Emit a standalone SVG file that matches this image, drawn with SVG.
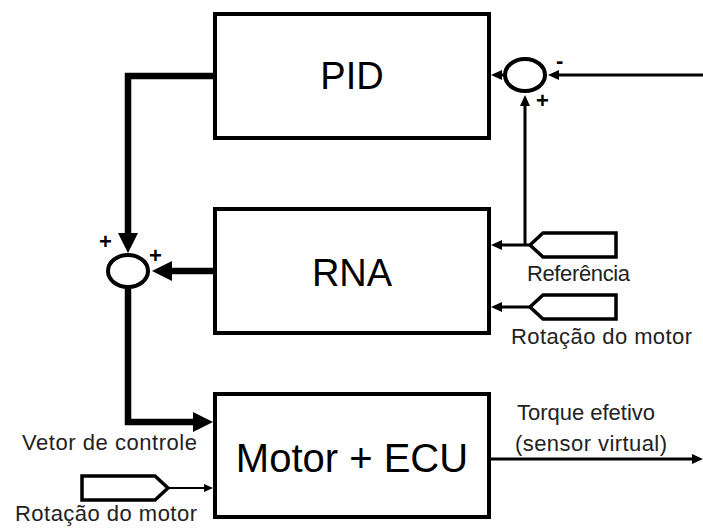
<svg xmlns="http://www.w3.org/2000/svg" width="703" height="528" viewBox="0 0 703 528">
<style>
.box{fill:#fff;stroke:#000;stroke-width:4}
.sum{fill:#fff;stroke:#000;stroke-width:4}
.thick{fill:none;stroke:#000;stroke-width:6.5}
.thin{fill:none;stroke:#000;stroke-width:3}
.hair{fill:none;stroke:#000;stroke-width:2}
.inp{fill:#fff;stroke:#000;stroke-width:3.5;stroke-linejoin:miter}
.big{font-family:"Liberation Sans",Arial,sans-serif;font-size:38px;text-anchor:middle;fill:#000}
.lbl{font-family:"Liberation Sans",Arial,sans-serif;font-size:22px;fill:#222}
.sign{font-family:"Liberation Sans",Arial,sans-serif;font-size:22px;font-weight:bold;fill:#000}
</style>
<defs>
<marker id="ab" markerUnits="userSpaceOnUse" markerWidth="20" markerHeight="20" refX="0" refY="10" orient="auto"><path d="M0,0 L20,10 L0,20 z" fill="#000"/></marker>
<marker id="as" markerUnits="userSpaceOnUse" markerWidth="11" markerHeight="10" refX="0" refY="5" orient="auto"><path d="M0,0 L11,5 L0,10 z" fill="#000"/></marker>
<marker id="ax" markerUnits="userSpaceOnUse" markerWidth="9" markerHeight="8" refX="0" refY="4" orient="auto"><path d="M0,0 L9,4 L0,8 z" fill="#000"/></marker>
</defs>
<g id="connectors">
<path class="thick" d="M215,76 H128 V233" marker-end="url(#ab)"/>
<path class="thick" d="M213,271 H172" marker-end="url(#ab)"/>
<path class="thick" d="M128,287 V422 H193" marker-end="url(#ab)"/>
<path class="thin" d="M703,75 H559" marker-end="url(#as)"/>
<path class="thin" d="M505,75 H502" marker-end="url(#as)"/>
<path class="thin" d="M525,245 V106" marker-end="url(#as)"/>
<path class="thin" d="M530,245 H502" marker-end="url(#as)"/>
<path class="thin" d="M530,307 H502" marker-end="url(#as)"/>
<path class="hair" d="M168,488 H204" marker-end="url(#ax)"/>
<path class="thin" d="M491,459 H692" marker-end="url(#as)"/>
</g>
<g id="pid"><rect class="box" x="215" y="14" width="274" height="124"/><text class="big" x="352" y="89">PID</text></g>
<g id="rna"><rect class="box" x="215" y="209" width="274" height="124"/><text class="big" x="352" y="286">RNA</text></g>
<g id="motor"><rect class="box" x="215" y="394" width="274" height="123"/><text class="big" x="352" y="472" style="font-size:40px">Motor + ECU</text></g>
<g id="sum1"><ellipse class="sum" cx="525" cy="75" rx="20" ry="16"/><text class="sign" x="556" y="68">-</text><text class="sign" x="536" y="108">+</text></g>
<g id="sum2"><ellipse class="sum" cx="128" cy="271" rx="20" ry="16"/><text class="sign" x="99" y="249">+</text><text class="sign" x="149" y="263">+</text></g>
<g id="in-ref"><path class="inp" d="M530,245 L543,233 H616 V257 H543 Z"/><text class="lbl" x="527" y="281" textLength="103">Referência</text></g>
<g id="in-rot1"><path class="inp" d="M530,307 L543,295 H616 V319 H543 Z"/><text class="lbl" x="511" y="344" textLength="181">Rotação do motor</text></g>
<g id="in-rot2"><path class="inp" d="M82,476 H155 L168,488 L155,500 H82 Z"/><text class="lbl" x="15" y="521" textLength="182">Rotação do motor</text></g>
<g id="labels">
<text class="lbl" x="22" y="450" textLength="175">Vetor de controle</text>
<text class="lbl" x="517" y="420" textLength="138">Torque efetivo</text>
<text class="lbl" x="515" y="451" textLength="152">(sensor virtual)</text>
</g>
</svg>
